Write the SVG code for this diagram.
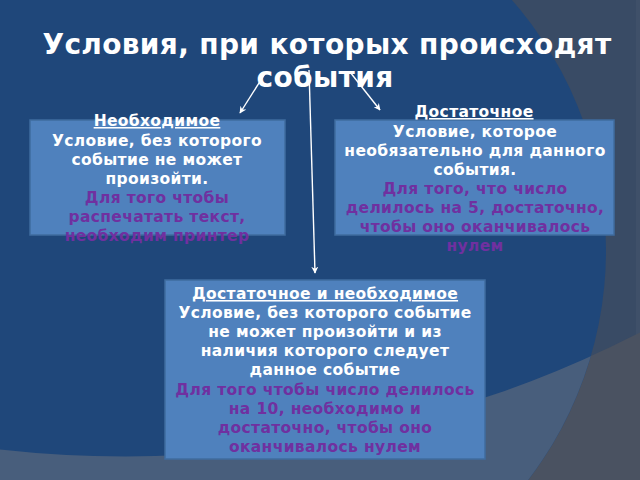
<svg xmlns="http://www.w3.org/2000/svg" width="640" height="480" viewBox="0 0 640 480">
<style>
.t{font-family:"DejaVu Sans","Verdana",sans-serif;font-weight:bold;text-anchor:middle}
.title{font-size:28px;fill:#ffffff;letter-spacing:0.35px}
.b{font-size:15.5px;fill:#ffffff;letter-spacing:0.35px}
.p{font-size:15.5px;fill:#7030a0;letter-spacing:0.35px}
.h{font-size:15.5px;fill:#ffffff;text-decoration:underline;letter-spacing:0.35px}
.box{fill:#4f81bd;stroke:#3f6c9f;stroke-width:1.5}
.conn{stroke:#ffffff;stroke-width:1.4;fill:none;marker-end:url(#ah)}
</style>
<defs>
<marker id="ah" viewBox="0 0 10 10" refX="9" refY="5" markerWidth="7" markerHeight="7" markerUnits="userSpaceOnUse" orient="auto">
<path d="M0,0 L10,5 L0,10 L3,5 Z" fill="#ffffff"/>
</marker>
<clipPath id="cc"><circle cx="227" cy="250" r="379"/></clipPath>
</defs>
<g id="background">
<rect x="0" y="0" width="640" height="480" fill="#394b65"/>
<rect x="636" y="0" width="4" height="480" fill="#3f5069"/>
<path d="M-20,447 A1130,1130 0 0,0 660,322 L660,500 L-20,500 Z" fill="#4a5261"/>
<circle cx="227" cy="250" r="379" fill="#1f477a"/>
<path d="M-20,447 A1130,1130 0 0,0 660,322 L660,500 L-20,500 Z" fill="#485e7c" clip-path="url(#cc)"/>
</g>
<g id="title">
<text class="t title" x="327" y="54">Условия, при которых происходят</text>
<text class="t title" x="325" y="87">события</text>
</g>
<g id="connectors">
<line class="conn" x1="266" y1="72" x2="240" y2="113"/>
<line class="conn" x1="350" y1="72" x2="380" y2="110"/>
<line class="conn" x1="309" y1="70" x2="315" y2="273"/>
</g>
<g id="node-necessary">
<rect class="box" x="30" y="120" width="255" height="115"/>
<text class="t h" x="157" y="126">Необходимое</text>
<text class="t b" x="157" y="146">Условие, без которого</text>
<text class="t b" x="157" y="165">событие не может</text>
<text class="t b" x="157" y="184">произойти.</text>
<text class="t p" x="157" y="203">Для того чтобы</text>
<text class="t p" x="157" y="222">распечатать текст,</text>
<text class="t p" x="157" y="241">необходим принтер</text>
</g>
<g id="node-sufficient">
<rect class="box" x="335" y="120" width="279" height="115"/>
<text class="t h" x="474" y="117">Достаточное</text>
<text class="t b" x="475" y="137">Условие, которое</text>
<text class="t b" x="475" y="156">необязательно для данного</text>
<text class="t b" x="475" y="175">события.</text>
<text class="t p" x="475" y="194">Для того, что число</text>
<text class="t p" x="475" y="213">делилось на 5, достаточно,</text>
<text class="t p" x="475" y="232">чтобы оно оканчивалось</text>
<text class="t p" x="475" y="251">нулем</text>
</g>
<g id="node-both">
<rect class="box" x="165" y="280" width="320" height="179"/>
<text class="t h" x="325" y="299">Достаточное и необходимое</text>
<text class="t b" x="325" y="318">Условие, без которого событие</text>
<text class="t b" x="325" y="337">не может произойти и из</text>
<text class="t b" x="325" y="356">наличия которого следует</text>
<text class="t b" x="325" y="375">данное событие</text>
<text class="t p" x="325" y="395">Для того чтобы число делилось</text>
<text class="t p" x="325" y="414">на 10, необходимо и</text>
<text class="t p" x="325" y="433">достаточно, чтобы оно</text>
<text class="t p" x="325" y="452">оканчивалось нулем</text>
</g>
</svg>
